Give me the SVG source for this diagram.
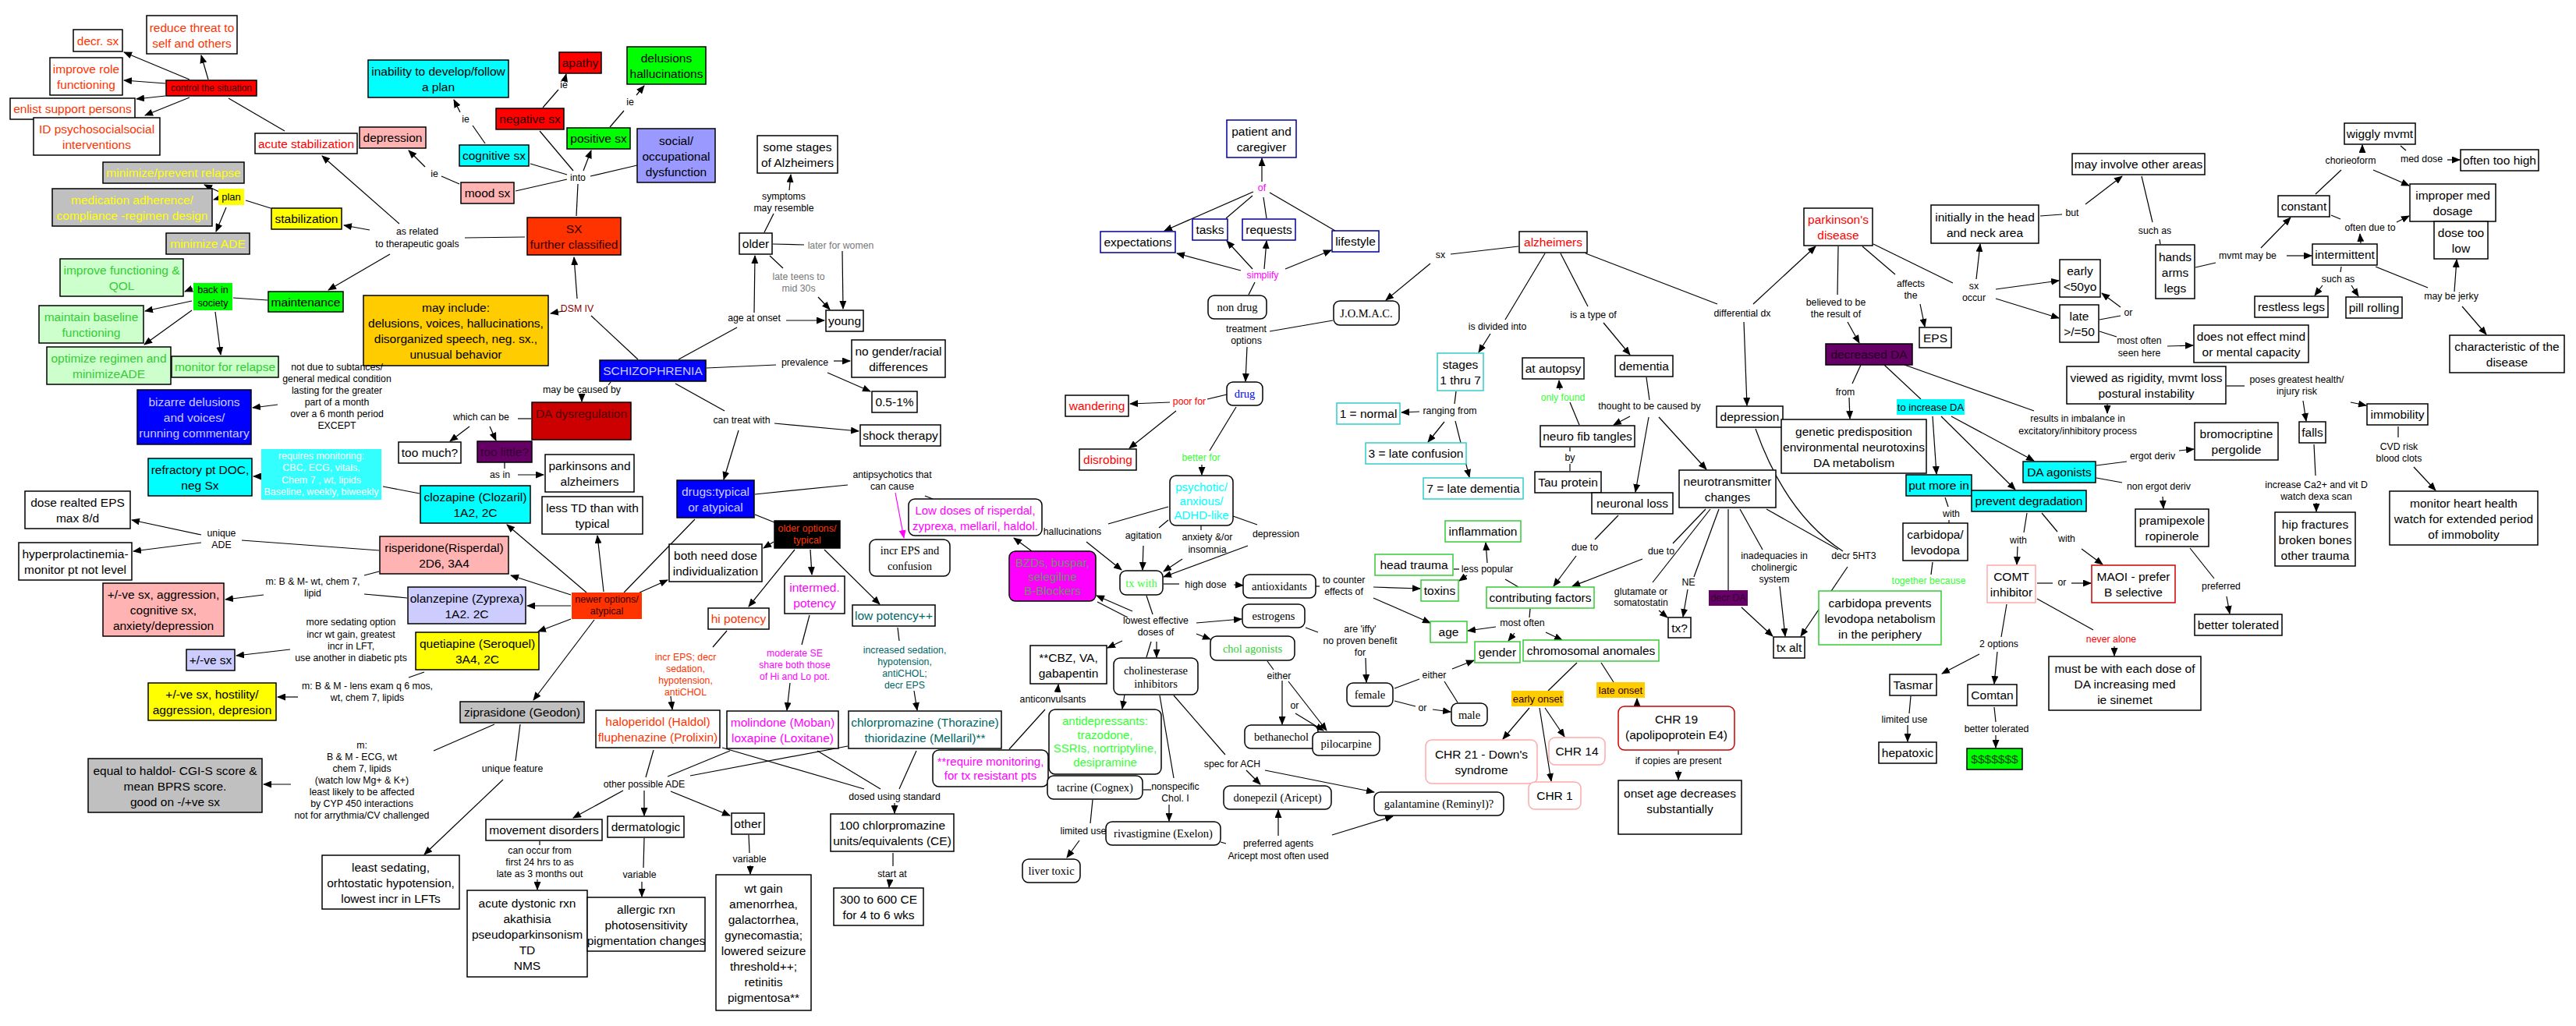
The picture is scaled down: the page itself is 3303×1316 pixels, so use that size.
<svg xmlns="http://www.w3.org/2000/svg" width="3303" height="1316" viewBox="0 0 3303 1316">
<style>
.b{fill:#fff;stroke:#000;stroke-width:1.5}
.red{fill:#f00}.cy{fill:#0ff}.cy2{fill:#33ffff}.pk{fill:#ffb3b3}.gr{fill:#0f0}.lg{fill:#ccffcc}.gy{fill:#c0c0c0}.ye{fill:#ff0}.bl{fill:#00f}.lv{fill:#ccf}.lv2{fill:#99f}.pu{fill:#606}.or{fill:#f30}.go{fill:#fc0}.dr{fill:#c00}.bk{fill:#000}.mg{fill:#f0f}
.sb{stroke:#000099}.sc{stroke:#33cccc}.sg{stroke:#33cc33}.sp{stroke:#ffaaaa}.sr{stroke:#cc0000}
text{dominant-baseline:central;text-anchor:middle}
.t{font-family:"Liberation Sans",Arial,sans-serif;font-size:15.5px;fill:#000}
.s{font-family:"Liberation Serif","Times New Roman",serif;font-size:14.5px;fill:#000}
.l{font-family:"Liberation Sans",Arial,sans-serif;font-size:12.3px;fill:#000}
.sm{font-size:12.5px}
.tr{fill:#f00}.to{fill:#f30}.ty{fill:#ff0}.tg{fill:#33cc33}.tm{fill:#f0f}.tt{fill:#066}.tc{fill:#0ff}.tw{fill:#fff}.tb{fill:#00f}.tl{fill:#ccf}.tlg{fill:#3f3}.td{fill:#300}.tgy{fill:#777}.tdr{fill:#800}.tbz{fill:#696}.tpu{fill:#303}
#connectors path{fill:none;stroke:#000;stroke-width:1.2}
#connectors path.a{marker-end:url(#ah)}
#connectors path.m{stroke:#f0f}
</style>
<defs>
<marker id="ah" markerUnits="userSpaceOnUse" markerWidth="11" markerHeight="9" refX="10" refY="4.5" orient="auto"><path d="M0,0 L11,4.5 L0,9 z" fill="#000"/></marker>
<marker id="ahm" markerUnits="userSpaceOnUse" markerWidth="11" markerHeight="9" refX="10" refY="4.5" orient="auto"><path d="M0,0 L11,4.5 L0,9 z" fill="#f0f"/></marker>
</defs>
<rect width="3303" height="1316" fill="#fff"/>

<g id="connectors">
<path class="a" d="M243,102 L159,67"/>
<path class="a" d="M267,102 L258,71"/>
<path class="a" d="M212,107 L159,103"/>
<path class="a" d="M212,123 L175,127"/>
<path class="a" d="M243,125 L186,148"/>
<path d="M365,168 L293,126"/>
<path class="a" d="M512,287 L413,200"/>
<path class="a" d="M474,295 L441,289"/>
<path class="a" d="M500,326 L421,372"/>
<path d="M673,304 L596,305"/>
<path class="a" d="M740,383 L736,330"/>
<path class="a" d="M722,399 L706,402"/>
<path d="M818,461 L758,405"/>
<path d="M739,277 L741,236"/>
<path d="M727,230 L661,245"/>
<path d="M727,224 L680,210"/>
<path d="M735,219 L692,168"/>
<path class="a" d="M748,219 L758,193"/>
<path d="M757,226 L817,212"/>
<path d="M696,138 L716,115"/>
<path class="a" d="M724,103 L726,95"/>
<path d="M782,163 L800,142"/>
<path class="a" d="M816,122 L826,110"/>
<path d="M622,184 L606,161"/>
<path class="a" d="M590,144 L582,128"/>
<path d="M589,236 L566,226"/>
<path class="a" d="M545,214 L524,193"/>
<path d="M347,267 L315,257"/>
<path class="a" d="M281,246 L262,237"/>
<path class="a" d="M281,254 L274,256"/>
<path class="a" d="M290,266 L277,297"/>
<path d="M343,385 L299,382"/>
<path class="a" d="M247,370 L237,374"/>
<path class="a" d="M246,386 L186,399"/>
<path class="a" d="M246,398 L185,442"/>
<path class="a" d="M276,400 L283,455"/>
<path class="a" d="M356,519 L324,523"/>
<path d="M870,461 L945,420"/>
<path class="a" d="M967,401 L968,328"/>
<path class="a" d="M1008,411 L1057,411"/>
<path d="M980,298 L992,274"/>
<path class="a" d="M1012,244 L1014,224"/>
<path d="M991,313 L1031,314"/>
<path class="a" d="M1080,322 L1081,396"/>
<path d="M987,328 L1004,344"/>
<path class="a" d="M1049,381 L1064,397"/>
<path d="M906,472 L995,468"/>
<path class="a" d="M1069,463 L1090,463"/>
<path class="a" d="M1061,478 L1116,502"/>
<path d="M866,492 L929,527"/>
<path class="a" d="M993,543 L1101,553"/>
<path class="a" d="M947,552 L928,615"/>
<path d="M783,490 L780,494"/>
<path class="a" d="M746,506 L746,515"/>
<path d="M681,537 L664,537"/>
<path class="a" d="M602,547 L577,566"/>
<path class="a" d="M628,547 L636,565"/>
<path d="M647,593 L647,601"/>
<path class="a" d="M664,609 L697,609"/>
<path d="M891,666 L800,760"/>
<path class="a" d="M820,760 L856,744"/>
<path d="M968,660 L993,670"/>
<path class="a" d="M992,695 L979,703"/>
<path class="a" d="M752,760 L650,673"/>
<path class="a" d="M774,759 L766,687"/>
<path class="a" d="M732,763 L655,738"/>
<path class="a" d="M732,777 L676,777"/>
<path class="a" d="M732,794 L690,810"/>
<path class="a" d="M762,795 L684,898"/>
<path d="M538,633 L491,624"/>
<path class="a" d="M335,611 L325,611"/>
<path d="M486,706 L310,693"/>
<path class="a" d="M258,686 L169,667"/>
<path class="a" d="M258,696 L171,707"/>
<path d="M486,733 L467,738"/>
<path class="a" d="M338,763 L289,769"/>
<path d="M522,767 L467,762"/>
<path class="a" d="M372,833 L303,841"/>
<path d="M544,862 L524,869"/>
<path class="a" d="M382,894 L356,894"/>
<path d="M634,929 L556,963"/>
<path class="a" d="M373,1006 L338,1006"/>
<path d="M667,929 L661,976"/>
<path class="a" d="M645,1000 L544,1096"/>
<path d="M932,809 L914,830"/>
<path class="a" d="M860,893 L862,910"/>
<path d="M1038,789 L1028,827"/>
<path class="a" d="M1013,876 L1009,911"/>
<path d="M1151,805 L1153,822"/>
<path class="a" d="M1172,886 L1176,911"/>
<path class="a" d="M1019,705 L960,778"/>
<path class="a" d="M1039,705 L1041,737"/>
<path class="a" d="M1057,705 L1128,775"/>
<path d="M838,962 L828,997"/>
<path d="M936,963 L856,996"/>
<path d="M1087,957 L885,995"/>
<path d="M926,959 L1108,1012"/>
<path d="M1048,963 L1129,1012"/>
<path d="M1175,963 L1153,1012"/>
<path class="a" d="M1147,1030 L1147,1043"/>
<path d="M1145,1094 L1145,1111"/>
<path class="a" d="M1141,1129 L1140,1138"/>
<path class="a" d="M799,1014 L735,1049"/>
<path class="a" d="M826,1014 L826,1046"/>
<path class="a" d="M860,1015 L936,1046"/>
<path d="M692,1079 L692,1084"/>
<path class="a" d="M689,1128 L689,1141"/>
<path d="M826,1075 L825,1113"/>
<path class="a" d="M823,1131 L823,1150"/>
<path d="M960,1071 L961,1094"/>
<path class="a" d="M962,1110 L962,1121"/>
<path d="M968,634 L1087,622"/>
<path d="M1186,636 L1196,640"/>
<path class="m" marker-end="url(#ahm)" d="M1148,632 L1159,690"/>
<path class="a" d="M1323,707 L1300,690"/>
<path d="M1498,650 L1421,672"/>
<path class="a" d="M1393,695 L1438,731"/>
<path d="M1498,667 L1486,677"/>
<path class="a" d="M1466,700 L1465,731"/>
<path d="M1540,674 L1540,680"/>
<path class="a" d="M1516,717 L1492,733"/>
<path d="M1581,662 L1612,673"/>
<path class="a" d="M1600,700 L1492,740"/>
<path d="M1492,749 L1512,749"/>
<path class="a" d="M1582,750 L1594,751"/>
<path d="M1470,764 L1478,788"/>
<path class="a" d="M1452,784 L1406,764"/>
<path d="M1446,792 L1407,772"/>
<path class="a" d="M1534,799 L1592,794"/>
<path class="a" d="M1534,813 L1552,820"/>
<path class="a" d="M1439,822 L1420,831"/>
<path d="M1476,823 L1470,843"/>
<path class="a" d="M1483,823 L1483,843"/>
<path class="a" d="M1356,888 L1357,878"/>
<path d="M1294,961 L1340,910"/>
<path class="a" d="M1442,891 L1439,909"/>
<path d="M1487,892 L1505,998"/>
<path class="a" d="M1499,1032 L1499,1053"/>
<path d="M1466,1013 L1476,1013"/>
<path d="M1401,1026 L1398,1056"/>
<path class="a" d="M1384,1078 L1368,1100"/>
<path d="M1565,1080 L1572,1082"/>
<path class="a" d="M1639,1072 L1639,1039"/>
<path class="a" d="M1708,1071 L1786,1047"/>
<path d="M1505,892 L1571,968"/>
<path class="a" d="M1598,988 L1616,1006"/>
<path class="a" d="M1622,988 L1762,1016"/>
<path d="M1625,848 L1633,859"/>
<path class="a" d="M1644,873 L1644,929"/>
<path class="a" d="M1652,874 L1701,937"/>
<path class="a" d="M1661,915 L1697,937"/>
<path d="M1674,805 L1690,811"/>
<path class="a" d="M1751,844 L1752,875"/>
<path d="M1788,883 L1820,871"/>
<path d="M1869,901 L1852,874"/>
<path class="a" d="M1862,858 L1890,847"/>
<path d="M1788,899 L1815,906"/>
<path class="a" d="M1837,910 L1860,913"/>
<path d="M1947,316 L1860,326"/>
<path class="a" d="M1834,338 L1777,385"/>
<path d="M1709,411 L1628,425"/>
<path class="a" d="M1599,445 L1597,489"/>
<path d="M1601,378 L1609,362"/>
<path class="a" d="M1591,347 L1509,325"/>
<path class="a" d="M1606,345 L1573,309"/>
<path class="a" d="M1621,345 L1624,309"/>
<path class="a" d="M1648,345 L1707,321"/>
<path class="a" d="M1618,233 L1618,203"/>
<path class="a" d="M1607,246 L1493,296"/>
<path d="M1606,251 L1572,280"/>
<path d="M1620,253 L1624,280"/>
<path d="M1628,247 L1712,296"/>
<path d="M1573,506 L1548,512"/>
<path class="a" d="M1500,516 L1449,518"/>
<path class="a" d="M1508,527 L1448,575"/>
<path d="M1585,522 L1551,578"/>
<path class="a" d="M1541,596 L1541,609"/>
<path d="M1981,325 L1930,410"/>
<path class="a" d="M1911,428 L1896,452"/>
<path d="M1867,502 L1865,518"/>
<path class="a" d="M1820,528 L1797,529"/>
<path class="a" d="M1852,541 L1831,567"/>
<path class="a" d="M1866,540 L1884,612"/>
<path d="M2001,325 L2036,393"/>
<path class="a" d="M2056,414 L2090,455"/>
<path d="M2111,484 L2115,513"/>
<path class="a" d="M2090,534 L2069,545"/>
<path class="a" d="M2114,535 L2097,631"/>
<path class="a" d="M2127,535 L2188,602"/>
<path d="M2025,545 L2013,516"/>
<path class="a" d="M2000,500 L1999,488"/>
<path d="M2013,574 L2013,579"/>
<path d="M2013,595 L2013,604"/>
<path d="M2075,661 L2045,692"/>
<path class="a" d="M2021,713 L1992,752"/>
<path d="M2187,653 L2145,697"/>
<path class="a" d="M2106,717 L2016,752"/>
<path d="M2193,653 L2119,747"/>
<path class="a" d="M2127,783 L2138,792"/>
<path d="M2204,653 L2172,740"/>
<path class="a" d="M2164,756 L2158,791"/>
<path d="M2216,653 L2216,757"/>
<path class="a" d="M2233,779 L2273,816"/>
<path d="M2231,653 L2260,705"/>
<path class="a" d="M2282,752 L2289,816"/>
<path d="M2265,653 L2357,705"/>
<path class="a" d="M2369,727 L2309,816"/>
<path d="M2251,550 Q2290,660 2363,707"/>
<path d="M2033,325 L2202,390"/>
<path class="a" d="M2248,390 L2328,316"/>
<path class="a" d="M2236,413 L2240,520"/>
<path d="M2357,316 L2356,378"/>
<path class="a" d="M2369,413 L2384,440"/>
<path d="M2388,316 L2430,352"/>
<path class="a" d="M2462,390 L2468,419"/>
<path d="M2402,313 L2504,363"/>
<path class="a" d="M2534,358 L2539,313"/>
<path class="a" d="M2559,371 L2640,360"/>
<path class="a" d="M2559,383 L2640,408"/>
<path d="M2692,410 L2719,405"/>
<path class="a" d="M2719,394 L2695,376"/>
<path d="M2692,425 L2714,432"/>
<path class="a" d="M2779,444 L2812,443"/>
<path d="M2616,277 L2644,275"/>
<path class="a" d="M2674,262 L2721,226"/>
<path d="M2746,226 L2760,285"/>
<path d="M2769,307 L2770,313"/>
<path d="M2815,343 L2841,337"/>
<path class="a" d="M2932,328 L2964,328"/>
<path class="a" d="M2899,318 L2937,279"/>
<path d="M2969,249 L3002,218"/>
<path class="a" d="M3029,196 L3029,186"/>
<path class="a" d="M3043,218 L3089,238"/>
<path d="M3078,187 L3085,193"/>
<path class="a" d="M3138,205 L3154,205"/>
<path d="M2989,276 L3001,281"/>
<path class="a" d="M3073,285 L3089,277"/>
<path class="a" d="M3027,312 L3026,300"/>
<path d="M3002,342 L3001,349"/>
<path class="a" d="M2978,366 L2968,379"/>
<path class="a" d="M3015,366 L3024,380"/>
<path d="M3046,342 L3113,369"/>
<path class="a" d="M3147,374 L3150,333"/>
<path class="a" d="M3157,393 L3188,429"/>
<path d="M2386,468 L2375,492"/>
<path class="a" d="M2371,510 L2372,537"/>
<path d="M2416,468 L2463,512"/>
<path d="M2442,468 L2608,527"/>
<path class="a" d="M2702,518 L2702,530"/>
<path d="M2855,495 L2878,495"/>
<path class="a" d="M2953,514 L2957,540"/>
<path class="a" d="M3014,516 L3034,520"/>
<path d="M2967,570 L2969,610"/>
<path class="a" d="M2970,645 L2970,656"/>
<path d="M3075,547 L3075,561"/>
<path class="a" d="M3095,599 L3123,629"/>
<path class="a" d="M2478,534 L2483,608"/>
<path class="a" d="M2489,534 L2584,628"/>
<path class="a" d="M2502,534 L2608,591"/>
<path d="M2688,597 L2727,592"/>
<path class="a" d="M2794,578 L2813,576"/>
<path d="M2688,613 L2721,619"/>
<path class="a" d="M2773,637 L2774,652"/>
<path d="M2808,703 L2839,742"/>
<path class="a" d="M2855,765 L2859,787"/>
<path d="M2494,638 L2498,650"/>
<path d="M2499,667 L2499,671"/>
<path d="M2478,721 L2476,737"/>
<path d="M2599,658 L2595,683"/>
<path class="a" d="M2587,701 L2586,724"/>
<path d="M2618,658 L2638,682"/>
<path class="a" d="M2669,704 L2696,724"/>
<path d="M2612,748 L2632,748"/>
<path class="a" d="M2656,748 L2681,748"/>
<path d="M2612,768 L2684,808"/>
<path class="a" d="M2711,829 L2711,841"/>
<path d="M2573,775 L2566,817"/>
<path class="a" d="M2538,839 L2490,864"/>
<path class="a" d="M2561,836 L2557,877"/>
<path d="M2557,907 L2559,926"/>
<path class="a" d="M2559,943 L2559,959"/>
<path d="M2450,893 L2448,915"/>
<path class="a" d="M2446,930 L2446,951"/>
<path d="M1962,781 L1961,792"/>
<path class="a" d="M1918,804 L1882,809"/>
<path class="a" d="M1942,812 L1934,822"/>
<path class="a" d="M1982,811 L2003,821"/>
<path class="a" d="M1761,753 L1821,755"/>
<path class="a" d="M1761,767 L1834,799"/>
<path d="M1687,752 L1692,752"/>
<path d="M1947,753 L1930,743"/>
<path class="a" d="M1907,722 L1905,696"/>
<path d="M1871,730 L1864,730"/>
<path class="a" d="M1881,738 L1871,745"/>
<path d="M2022,850 L1985,886"/>
<path d="M2053,850 L2069,875"/>
<path class="a" d="M1961,908 L1927,948"/>
<path class="a" d="M1981,908 L2006,945"/>
<path class="a" d="M1974,908 L1989,1002"/>
<path class="a" d="M2099,905 L2099,896"/>
<path d="M2152,963 L2152,968"/>
<path class="a" d="M2152,988 L2152,1000"/>
</g>

<g id="n-decr-sx"><rect class="b" x="94" y="38" width="63" height="28"/><text class="t to" x="125.5" y="52">decr. sx</text></g>
<g id="n-reduce-threat"><rect class="b" x="188" y="20" width="116" height="49"/><text class="t to"><tspan x="246" y="34.5">reduce threat to</tspan><tspan x="246" y="54.5">self and others</tspan></text></g>
<g id="n-improve-role"><rect class="b" x="64" y="74" width="93" height="48"/><text class="t to"><tspan x="110.5" y="88">improve role</tspan><tspan x="110.5" y="108">functioning</tspan></text></g>
<g id="n-control"><rect class="b red" x="213" y="103" width="116" height="20"/><text class="t td" style="font-size:12px" x="271" y="113">control the situation</text></g>
<g id="n-enlist"><rect class="b" x="13" y="126" width="160" height="27"/><text class="t to" x="93" y="139.5">enlist support persons</text></g>
<g id="n-id-psych"><rect class="b" x="43" y="151" width="162" height="48"/><text class="t to"><tspan x="124" y="165">ID psychosocialsocial</tspan><tspan x="124" y="185">interventions</tspan></text></g>
<g id="n-acute"><rect class="b" x="327" y="171" width="131" height="26"/><text class="t tr" x="392.5" y="184">acute stabilization</text></g>
<g id="n-depression1"><rect class="b pk" x="461" y="163" width="85" height="27"/><text class="t" x="503.5" y="176.5">depression</text></g>
<g id="n-inability"><rect class="b cy" x="472" y="77" width="180" height="48"/><text class="t"><tspan x="562" y="91">inability to develop/follow</tspan><tspan x="562" y="111">a plan</tspan></text></g>
<g id="n-apathy"><rect class="b red" x="717" y="67" width="54" height="27"/><text class="t td" x="744" y="80.5">apathy</text></g>
<g id="n-negative"><rect class="b red" x="636" y="139" width="87" height="27"/><text class="t td" x="679.5" y="152.5">negative sx</text></g>
<g id="n-delusions"><rect class="b gr" x="804" y="60" width="101" height="48"/><text class="t"><tspan x="854.5" y="74">delusions</tspan><tspan x="854.5" y="94">hallucinations</tspan></text></g>
<g id="n-positive"><rect class="b gr" x="727" y="164" width="81" height="27"/><text class="t" x="767.5" y="177.5">positive sx</text></g>
<g id="n-cognitive"><rect class="b cy" x="589" y="186" width="89" height="27"/><text class="t" x="633.5" y="199.5">cognitive sx</text></g>
<g id="n-social"><rect class="b lv2" x="817" y="165" width="100" height="69"/><text class="t"><tspan x="867" y="179.5">social/</tspan><tspan x="867" y="199.5">occupational</tspan><tspan x="867" y="219.5">dysfunction</tspan></text></g>
<g id="n-mood"><rect class="b pk" x="591" y="234" width="68" height="27"/><text class="t" x="625" y="247.5">mood sx</text></g>
<g id="n-min-relapse"><rect class="b gy" x="132" y="208" width="181" height="27"/><text class="t ty" x="222.5" y="221.5">minimize/prevent relapse</text></g>
<g id="n-med-adh"><rect class="b gy" x="67" y="242" width="205" height="48"/><text class="t ty"><tspan x="169.5" y="256">medication adherence/</tspan><tspan x="169.5" y="276">compliance -regimen design</tspan></text></g>
<g id="n-plan"><rect class="b ye" x="280" y="242" width="33" height="21" style="stroke:none"/><text class="t" style="font-size:13px" x="296.5" y="252.5">plan</text></g>
<g id="n-stabilization"><rect class="b ye" x="348" y="267" width="90" height="27"/><text class="t" x="393" y="280.5">stabilization</text></g>
<g id="n-min-ade"><rect class="b gy" x="213" y="299" width="107" height="27"/><text class="t ty" x="266.5" y="312.5">minimize ADE</text></g>
<g id="n-sx-further"><rect class="b or" x="676" y="279" width="120" height="48"/><text class="t td"><tspan x="736" y="293">SX</tspan><tspan x="736" y="313">further classified</tspan></text></g>
<g id="n-improve-func"><rect class="b lg" x="77" y="332" width="158" height="48"/><text class="t tg"><tspan x="156" y="346">improve functioning &amp;</tspan><tspan x="156" y="366">QOL</tspan></text></g>
<g id="n-back-society"><rect class="b gr" x="248" y="363" width="50" height="35" style="stroke:none"/><text class="t" style="font-size:12.5px"><tspan x="273" y="372">back in</tspan><tspan x="273" y="389">society</tspan></text></g>
<g id="n-maintenance"><rect class="b gr" x="344" y="374" width="96" height="26"/><text class="t" x="392" y="387">maintenance</text></g>
<g id="n-maintain-base"><rect class="b lg" x="50" y="392" width="134" height="48"/><text class="t tg"><tspan x="117" y="406">maintain baseline</tspan><tspan x="117" y="426">functioning</tspan></text></g>
<g id="n-may-include"><rect class="b go" x="466" y="379" width="237" height="90"/><text class="t"><tspan x="584.5" y="394">may include:</tspan><tspan x="584.5" y="414">delusions, voices, hallucinations,</tspan><tspan x="584.5" y="434">disorganized speech, neg. sx.,</tspan><tspan x="584.5" y="454">unusual behavior</tspan></text></g>
<g id="n-optimize"><rect class="b lg" x="60" y="445" width="159" height="48"/><text class="t tg"><tspan x="139.5" y="459">optimize regimen and</tspan><tspan x="139.5" y="479">minimizeADE</tspan></text></g>
<g id="n-monitor-relapse"><rect class="b lg" x="220" y="457" width="137" height="27"/><text class="t tg" x="288.5" y="470.5">monitor for relapse</text></g>
<g id="n-bizarre"><rect class="b bl" x="176" y="500" width="146" height="70"/><text class="t tl"><tspan x="249" y="515">bizarre delusions</tspan><tspan x="249" y="535">and voices/</tspan><tspan x="249" y="555">running commentary</tspan></text></g>
<g id="n-schizo"><rect class="b bl" x="769" y="462" width="136" height="27"/><text class="t tl" x="837" y="475.5">SCHIZOPHRENIA</text></g>
<g id="n-da-dys"><rect class="b dr" x="682" y="516" width="127" height="48"/><text class="t" style="fill:#500" x="745.5" y="530">DA dysregulation</text></g>
<g id="n-too-much"><rect class="b" x="511" y="567" width="80" height="27"/><text class="t" x="551" y="580.5">too much?</text></g>
<g id="n-too-little"><rect class="b pu" x="612" y="566" width="70" height="27"/><text class="t tpu" x="647" y="579.5">too little?</text></g>
<g id="n-pk-alz"><rect class="b" x="699" y="583" width="114" height="48"/><text class="t"><tspan x="756" y="597">parkinsons and</tspan><tspan x="756" y="617">alzheimers</tspan></text></g>
<g id="n-less-td"><rect class="b" x="695" y="637" width="129" height="48"/><text class="t"><tspan x="759.5" y="651">less TD than with</tspan><tspan x="759.5" y="671">typical</tspan></text></g>
<g id="n-refractory"><rect class="b cy" x="190" y="588" width="133" height="48"/><text class="t"><tspan x="256.5" y="602">refractory pt DOC,</tspan><tspan x="256.5" y="622">neg Sx</tspan></text></g>
<g id="n-req-mon"><rect class="b cy2" x="335" y="576" width="154" height="65" style="stroke:none"/><text class="t tw" style="font-size:12.5px"><tspan x="412" y="585">requires monitoring:</tspan><tspan x="412" y="600">CBC, ECG, vitals,</tspan><tspan x="412" y="616">Chem  7 , wt, lipids</tspan><tspan x="412" y="631">Baseline, weekly, biweekly</tspan></text></g>
<g id="n-clozapine"><rect class="b cy" x="539" y="623" width="141" height="48"/><text class="t"><tspan x="609.5" y="637">clozapine (Clozaril)</tspan><tspan x="609.5" y="657">1A2, 2C</tspan></text></g>
<g id="n-dose-eps"><rect class="b" x="32" y="630" width="135" height="48"/><text class="t"><tspan x="99.5" y="644">dose realted EPS</tspan><tspan x="99.5" y="664">max 8/d</tspan></text></g>
<g id="n-hyperprol"><rect class="b" x="24" y="696" width="145" height="48"/><text class="t"><tspan x="96.5" y="710">hyperprolactinemia-</tspan><tspan x="96.5" y="730">monitor pt not level</tspan></text></g>
<g id="n-risperidone"><rect class="b pk" x="487" y="688" width="165" height="48"/><text class="t"><tspan x="569.5" y="702">risperidone(Risperdal)</tspan><tspan x="569.5" y="722">2D6, 3A4</tspan></text></g>
<g id="n-aggr"><rect class="b pk" x="132" y="748" width="155" height="68"/><text class="t"><tspan x="209.5" y="762">+/-ve sx, aggression,</tspan><tspan x="209.5" y="782">cognitive sx,</tspan><tspan x="209.5" y="802">anxiety/depression</tspan></text></g>
<g id="n-olanzepine"><rect class="b lv" x="523" y="753" width="151" height="47"/><text class="t"><tspan x="598.5" y="766.5">olanzepine (Zyprexa)</tspan><tspan x="598.5" y="786.5">1A2. 2C</tspan></text></g>
<g id="n-newer"><rect class="b or" x="733" y="760" width="90" height="34" style="stroke:none"/><text class="t td" style="font-size:12.5px"><tspan x="778" y="769">newer options/</tspan><tspan x="778" y="784">atypical</tspan></text></g>
<g id="n-ve-sx"><rect class="b lv" x="239" y="833" width="62" height="27"/><text class="t" x="270" y="846.5">+/-ve sx</text></g>
<g id="n-quetiapine"><rect class="b ye" x="533" y="811" width="158" height="48"/><text class="t"><tspan x="612" y="825">quetiapine (Seroquel)</tspan><tspan x="612" y="845">3A4, 2C</tspan></text></g>
<g id="n-hostility"><rect class="b ye" x="190" y="876" width="164" height="48"/><text class="t"><tspan x="272" y="890">+/-ve sx, hostility/</tspan><tspan x="272" y="910">aggression, depresion</tspan></text></g>
<g id="n-ziprasidone"><rect class="b gy" x="590" y="900" width="159" height="27"/><text class="t" x="669.5" y="913.5">ziprasidone (Geodon)</text></g>
<g id="n-equal-haldol"><rect class="b gy" x="113" y="973" width="223" height="69"/><text class="t"><tspan x="224.5" y="987.5">equal to haldol- CGI-S score &amp;</tspan><tspan x="224.5" y="1007.5">mean BPRS score.</tspan><tspan x="224.5" y="1027.5">good on -/+ve sx</tspan></text></g>
<g id="n-least-sed"><rect class="b" x="413" y="1097" width="176" height="69"/><text class="t"><tspan x="501" y="1111.5">least sedating,</tspan><tspan x="501" y="1131.5">orhtostatic hypotension,</tspan><tspan x="501" y="1151.5">lowest incr in LFTs</tspan></text></g>
<g id="n-move-dis"><rect class="b" x="623" y="1051" width="149" height="27"/><text class="t" x="697.5" y="1064.5">movement disorders</text></g>
<g id="n-acute-dys"><rect class="b" x="599" y="1142" width="154" height="111"/><text class="t"><tspan x="676" y="1157.5">acute dystonic rxn</tspan><tspan x="676" y="1177.5">akathisia</tspan><tspan x="676" y="1197.5">pseudoparkinsonism</tspan><tspan x="676" y="1217.5">TD</tspan><tspan x="676" y="1237.5">NMS</tspan></text></g>
<g id="n-dermat"><rect class="b" x="779" y="1047" width="98" height="27"/><text class="t" x="828" y="1060.5">dermatologic</text></g>
<g id="n-allergic"><rect class="b" x="753" y="1151" width="151" height="69"/><text class="t"><tspan x="828.5" y="1165.5">allergic rxn</tspan><tspan x="828.5" y="1185.5">photosensitivity</tspan><tspan x="828.5" y="1205.5">pigmentation changes</tspan></text></g>
<g id="n-haloperidol"><rect class="b" x="764" y="911" width="159" height="48"/><text class="t to"><tspan x="843.5" y="925">haloperidol (Haldol)</tspan><tspan x="843.5" y="945">fluphenazine (Prolixin)</tspan></text></g>
<g id="n-molindone"><rect class="b" x="932" y="912" width="143" height="48"/><text class="t tm"><tspan x="1003.5" y="926">molindone (Moban)</tspan><tspan x="1003.5" y="946">loxapine (Loxitane)</tspan></text></g>
<g id="n-chlorpromazine"><rect class="b" x="1088" y="912" width="196" height="48"/><text class="t tt"><tspan x="1186" y="926">chlorpromazine (Thorazine)</tspan><tspan x="1186" y="946">thioridazine (Mellaril)**</tspan></text></g>
<g id="n-other"><rect class="b" x="938" y="1043" width="42" height="27"/><text class="t" x="959" y="1056.5">other</text></g>
<g id="n-wt-gain"><rect class="b" x="918" y="1122" width="122" height="174"/><text class="t"><tspan x="979" y="1139">wt gain</tspan><tspan x="979" y="1159">amenorrhea,</tspan><tspan x="979" y="1179">galactorrhea,</tspan><tspan x="979" y="1199">gynecomastia;</tspan><tspan x="979" y="1219">lowered seizure</tspan><tspan x="979" y="1239">threshold++;</tspan><tspan x="979" y="1259">retinitis</tspan><tspan x="979" y="1279">pigmentosa**</tspan></text></g>
<g id="n-ce100"><rect class="b" x="1065" y="1044" width="158" height="48"/><text class="t"><tspan x="1144" y="1058">100 chlorpromazine</tspan><tspan x="1144" y="1078">units/equivalents (CE)</tspan></text></g>
<g id="n-ce300"><rect class="b" x="1069" y="1139" width="115" height="48"/><text class="t"><tspan x="1126.5" y="1153">300 to 600 CE</tspan><tspan x="1126.5" y="1173">for 4 to 6 wks</tspan></text></g>
<g id="n-some-stages"><rect class="b" x="971" y="174" width="103" height="48"/><text class="t"><tspan x="1022.5" y="188">some stages</tspan><tspan x="1022.5" y="208">of Alzheimers</tspan></text></g>
<g id="n-older"><rect class="b" x="948" y="299" width="42" height="27"/><text class="t" x="969" y="312.5">older</text></g>
<g id="n-young"><rect class="b" x="1059" y="398" width="48" height="27"/><text class="t" x="1083" y="411.5">young</text></g>
<g id="n-no-gender"><rect class="b" x="1092" y="436" width="120" height="48"/><text class="t"><tspan x="1152" y="450">no gender/racial</tspan><tspan x="1152" y="470">differences</tspan></text></g>
<g id="n-pct"><rect class="b" x="1118" y="502" width="58" height="27"/><text class="t" x="1147" y="515.5">0.5-1%</text></g>
<g id="n-shock"><rect class="b" x="1103" y="545" width="103" height="27"/><text class="t" x="1154.5" y="558.5">shock therapy</text></g>
<g id="n-drugs"><rect class="b bl" x="868" y="616" width="99" height="48"/><text class="t tl"><tspan x="917.5" y="630">drugs:typical</tspan><tspan x="917.5" y="650">or atypical</tspan></text></g>
<g id="n-older-opt"><rect class="b bk" x="993" y="668" width="84" height="35"/><text class="t to" style="font-size:12.5px"><tspan x="1035" y="678">older options/</tspan><tspan x="1035" y="693">typical</tspan></text></g>
<g id="n-both-need"><rect class="b" x="858" y="698" width="119" height="48"/><text class="t"><tspan x="917.5" y="712">both need dose</tspan><tspan x="917.5" y="732">individualization</tspan></text></g>
<g id="n-low-doses"><rect class="b" rx="8" x="1165" y="640" width="171" height="47"/><text class="t tm" style="font-size:15px"><tspan x="1250.5" y="653.5">Low doses of risperdal,</tspan><tspan x="1250.5" y="673.5">zyprexa, mellaril, haldol.</tspan></text></g>
<g id="n-incr-eps"><rect class="b" rx="8" x="1115" y="692" width="103" height="47"/><text class="s"><tspan x="1166.5" y="705.5">incr EPS and</tspan><tspan x="1166.5" y="725.5">confusion</tspan></text></g>
<g id="n-intermed"><rect class="b" x="1006" y="739" width="77" height="48"/><text class="t tm"><tspan x="1044.5" y="753">intermed.</tspan><tspan x="1044.5" y="773">potency</tspan></text></g>
<g id="n-hi-pot"><rect class="b" x="908" y="780" width="78" height="27"/><text class="t to" x="947" y="793.5">hi potency</text></g>
<g id="n-low-pot"><rect class="b" x="1093" y="776" width="106" height="27"/><text class="t tt" x="1146" y="789.5">low potency++</text></g>
<g id="n-patient"><rect class="b sb" x="1573" y="154" width="89" height="48"/><text class="t"><tspan x="1617.5" y="168">patient and</tspan><tspan x="1617.5" y="188">caregiver</tspan></text></g>
<g id="n-expectations"><rect class="b sb" x="1411" y="297" width="96" height="27"/><text class="t" x="1459" y="310.5">expectations</text></g>
<g id="n-tasks"><rect class="b sb" x="1529" y="281" width="45" height="27"/><text class="t" x="1551.5" y="294.5">tasks</text></g>
<g id="n-requests"><rect class="b sb" x="1593" y="281" width="68" height="27"/><text class="t" x="1627" y="294.5">requests</text></g>
<g id="n-lifestyle"><rect class="b sb" x="1708" y="296" width="60" height="27"/><text class="t" x="1738" y="309.5">lifestyle</text></g>
<g id="n-non-drug"><rect class="b" rx="8" x="1549" y="379" width="75" height="30"/><text class="s" x="1586.5" y="394">non drug</text></g>
<g id="n-jomac"><rect class="b" rx="8" x="1710" y="386" width="84" height="31"/><text class="s" x="1752" y="401.5">J.O.M.A.C.</text></g>
<g id="n-drug"><rect class="b" rx="8" x="1573" y="490" width="46" height="30"/><text class="s tb" x="1596" y="505">drug</text></g>
<g id="n-wandering"><rect class="b" x="1366" y="507" width="81" height="27"/><text class="t tr" x="1406.5" y="520.5">wandering</text></g>
<g id="n-disrobing"><rect class="b" x="1384" y="576" width="73" height="27"/><text class="t tr" x="1420.5" y="589.5">disrobing</text></g>
<g id="n-psychotic"><rect class="b" rx="8" x="1500" y="610" width="81" height="64"/><text class="t tc" style="font-size:15px"><tspan x="1540.5" y="624">psychotic/</tspan><tspan x="1540.5" y="642">anxious/</tspan><tspan x="1540.5" y="660">ADHD-like</tspan></text></g>
<g id="n-bzds"><rect class="b mg" rx="8" x="1294" y="707" width="111" height="64"/><text class="t tbz" style="font-size:15px"><tspan x="1349.5" y="721">BZDs, buspar,</tspan><tspan x="1349.5" y="739">selegiline</tspan><tspan x="1349.5" y="757">B-Blockers</tspan></text></g>
<g id="n-tx-with"><rect class="b" rx="8" x="1436" y="732" width="55" height="31"/><text class="s tlg" x="1463.5" y="747.5">tx with</text></g>
<g id="n-antiox"><rect class="b" rx="8" x="1594" y="737" width="93" height="30"/><text class="s" x="1640.5" y="752">antioxidants</text></g>
<g id="n-estrogens"><rect class="b" rx="8" x="1593" y="775" width="80" height="30"/><text class="s" x="1633" y="790">estrogens</text></g>
<g id="n-chol-ag"><rect class="b" rx="8" x="1552" y="816" width="108" height="31"/><text class="s tg" x="1606" y="831.5">chol agonists</text></g>
<g id="n-cbz"><rect class="b" x="1321" y="828" width="98" height="49"/><text class="t"><tspan x="1370" y="842.5">**CBZ, VA,</tspan><tspan x="1370" y="862.5">gabapentin</tspan></text></g>
<g id="n-cholinesterase"><rect class="b" rx="8" x="1428" y="844" width="108" height="47"/><text class="s"><tspan x="1482" y="860">cholinesterase</tspan><tspan x="1482" y="877">inhibitors</tspan></text></g>
<g id="n-antidep"><rect class="b" rx="8" x="1345" y="910" width="144" height="83"/><text class="t tlg" style="font-size:15px"><tspan x="1417" y="924">antidepressants:</tspan><tspan x="1417" y="942">trazodone,</tspan><tspan x="1417" y="959">SSRIs, nortriptyline,</tspan><tspan x="1417" y="977">desipramine</tspan></text></g>
<g id="n-req-mon2"><rect class="b" rx="8" x="1196" y="962" width="148" height="47"/><text class="t tm" style="font-size:15px"><tspan x="1270" y="976">**require monitoring,</tspan><tspan x="1270" y="994">for tx resistant pts</tspan></text></g>
<g id="n-tacrine"><rect class="b" rx="8" x="1343" y="995" width="122" height="30"/><text class="s" x="1404" y="1010">tacrine (Cognex)</text></g>
<g id="n-rivastigmine"><rect class="b" rx="8" x="1418" y="1054" width="147" height="30"/><text class="s" x="1491.5" y="1069">rivastigmine (Exelon)</text></g>
<g id="n-liver"><rect class="b" rx="8" x="1311" y="1102" width="74" height="30"/><text class="s" x="1348" y="1117">liver toxic</text></g>
<g id="n-donepezil"><rect class="b" rx="8" x="1569" y="1008" width="138" height="30"/><text class="s" x="1638" y="1023">donepezil (Aricept)</text></g>
<g id="n-galantamine"><rect class="b" rx="8" x="1762" y="1016" width="166" height="30"/><text class="s" x="1845" y="1031">galantamine (Reminyl)?</text></g>
<g id="n-bethanechol"><rect class="b" rx="8" x="1596" y="930" width="94" height="30"/><text class="s" x="1643" y="945">bethanechol</text></g>
<g id="n-pilocarpine"><rect class="b" rx="8" x="1683" y="939" width="86" height="30"/><text class="s" x="1726" y="954">pilocarpine</text></g>
<g id="n-female"><rect class="b" rx="8" x="1727" y="876" width="59" height="30"/><text class="s" x="1756.5" y="891">female</text></g>
<g id="n-male"><rect class="b" rx="8" x="1861" y="902" width="46" height="29"/><text class="s" x="1884" y="916.5">male</text></g>
<g id="n-alzheimers"><rect class="b" x="1948" y="297" width="87" height="27"/><text class="t tr" x="1991.5" y="310.5">alzheimers</text></g>
<g id="n-stages"><rect class="b sc" x="1843" y="453" width="59" height="48"/><text class="t"><tspan x="1872.5" y="467">stages</tspan><tspan x="1872.5" y="487">1 thru 7</tspan></text></g>
<g id="n-normal"><rect class="b sc" x="1714" y="517" width="81" height="27"/><text class="t" x="1754.5" y="530.5">1 = normal</text></g>
<g id="n-late-conf"><rect class="b sc" x="1751" y="568" width="129" height="27"/><text class="t" x="1815.5" y="581.5">3 = late confusion</text></g>
<g id="n-late-dem"><rect class="b sc" x="1825" y="613" width="128" height="27"/><text class="t" x="1889" y="626.5">7 = late dementia</text></g>
<g id="n-autopsy"><rect class="b" x="1952" y="459" width="79" height="27"/><text class="t" x="1991.5" y="472.5">at autopsy</text></g>
<g id="n-dementia"><rect class="b" x="2071" y="456" width="74" height="27"/><text class="t" x="2108" y="469.5">dementia</text></g>
<g id="n-nft"><rect class="b" x="1975" y="546" width="121" height="27"/><text class="t" x="2035.5" y="559.5">neuro fib tangles</text></g>
<g id="n-tau"><rect class="b" x="1968" y="605" width="85" height="27"/><text class="t" x="2010.5" y="618.5">Tau protein</text></g>
<g id="n-neuronal"><rect class="b" x="2041" y="632" width="104" height="27"/><text class="t" x="2093" y="645.5">neuronal loss</text></g>
<g id="n-neurotrans"><rect class="b" x="2153" y="603" width="124" height="48"/><text class="t"><tspan x="2215" y="617">neurotransmitter</tspan><tspan x="2215" y="637">changes</tspan></text></g>
<g id="n-depression2"><rect class="b" x="2201" y="521" width="85" height="27"/><text class="t" x="2243.5" y="534.5">depression</text></g>
<g id="n-inflammation"><rect class="b sg" x="1853" y="668" width="97" height="27"/><text class="t" x="1901.5" y="681.5">inflammation</text></g>
<g id="n-head-trauma"><rect class="b sg" x="1763" y="711" width="100" height="27"/><text class="t" x="1813" y="724.5">head trauma</text></g>
<g id="n-toxins"><rect class="b sg" x="1822" y="744" width="48" height="27"/><text class="t" x="1846" y="757.5">toxins</text></g>
<g id="n-contributing"><rect class="b sg" x="1906" y="753" width="138" height="27"/><text class="t" x="1975" y="766.5">contributing factors</text></g>
<g id="n-age"><rect class="b sg" x="1834" y="797" width="47" height="27"/><text class="t" x="1857.5" y="810.5">age</text></g>
<g id="n-gender"><rect class="b sg" x="1891" y="823" width="58" height="27"/><text class="t" x="1920" y="836.5">gender</text></g>
<g id="n-chromosomal"><rect class="b sg" x="1953" y="821" width="174" height="27"/><text class="t" x="2040" y="834.5">chromosomal anomales</text></g>
<g id="n-tx-q"><rect class="b" x="2139" y="792" width="29" height="26"/><text class="t" x="2153.5" y="805">tx?</text></g>
<g id="n-decr-da"><rect class="b pu" x="2191" y="757" width="50" height="20" style="stroke:none"/><text class="t tpu" style="font-size:12.5px" x="2216" y="767">decr DA</text></g>
<g id="n-tx-alt"><rect class="b" x="2274" y="817" width="40" height="27"/><text class="t" x="2294" y="830.5">tx alt</text></g>
<g id="n-early-onset"><rect class="b go" x="1938" y="886" width="67" height="20" style="stroke:none"/><text class="t td" style="font-size:13px" x="1971.5" y="896">early onset</text></g>
<g id="n-late-onset"><rect class="b go" x="2047" y="875" width="62" height="20" style="stroke:none"/><text class="t td" style="font-size:13px" x="2078" y="885">late onset</text></g>
<g id="n-chr21"><rect class="b sp" rx="8" x="1828" y="949" width="143" height="56"/><text class="t"><tspan x="1899.5" y="967">CHR 21 - Down's</tspan><tspan x="1899.5" y="987">syndrome</tspan></text></g>
<g id="n-chr14"><rect class="b sp" rx="8" x="1986" y="946" width="72" height="35"/><text class="t" x="2022" y="963.5">CHR 14</text></g>
<g id="n-chr1"><rect class="b sp" rx="8" x="1960" y="1003" width="67" height="35"/><text class="t" x="1993.5" y="1020.5">CHR 1</text></g>
<g id="n-chr19"><rect class="b sr" rx="8" x="2075" y="906" width="149" height="56"/><text class="t"><tspan x="2149.5" y="922">CHR 19</tspan><tspan x="2149.5" y="942">(apolipoprotein E4)</tspan></text></g>
<g id="n-onset-age"><rect class="b" x="2075" y="1001" width="158" height="69"/><text class="t"><tspan x="2154" y="1017">onset age decreases</tspan><tspan x="2154" y="1037">substantially</tspan></text></g>
<g id="n-parkinsons"><rect class="b" x="2313" y="267" width="88" height="48"/><text class="t tr"><tspan x="2357" y="281">parkinson's</tspan><tspan x="2357" y="301">disease</tspan></text></g>
<g id="n-eps"><rect class="b" x="2461" y="420" width="41" height="26"/><text class="t" x="2481.5" y="433">EPS</text></g>
<g id="n-decreased-da"><rect class="b pu" x="2341" y="441" width="111" height="27"/><text class="t" style="fill:#202" x="2396.5" y="454.5">decreased DA</text></g>
<g id="n-genetic"><rect class="b" x="2284" y="538" width="186" height="69"/><text class="t"><tspan x="2377" y="552.5">genetic predisposition</tspan><tspan x="2377" y="572.5">environmental neurotoxins</tspan><tspan x="2377" y="592.5">DA metabolism</tspan></text></g>
<g id="n-to-incr"><rect class="b cy" x="2432" y="512" width="87" height="20" style="stroke:none"/><text class="t" style="font-size:13px" x="2475.5" y="522">to increase DA</text></g>
<g id="n-put-more"><rect class="b cy" x="2444" y="609" width="84" height="27"/><text class="t" x="2486" y="622.5">put more in</text></g>
<g id="n-prevent"><rect class="b cy" x="2528" y="629" width="147" height="27"/><text class="t" x="2601.5" y="642.5">prevent degradation</text></g>
<g id="n-carbidopa"><rect class="b" x="2440" y="671" width="83" height="48"/><text class="t"><tspan x="2481.5" y="685">carbidopa/</tspan><tspan x="2481.5" y="705">levodopa</tspan></text></g>
<g id="n-carb-prev"><rect class="b sg" x="2332" y="758" width="157" height="69"/><text class="t"><tspan x="2410.5" y="772.5">carbidopa prevents</tspan><tspan x="2410.5" y="792.5">levodopa netabolism</tspan><tspan x="2410.5" y="812.5">in the periphery</tspan></text></g>
<g id="n-da-ag"><rect class="b cy" x="2594" y="592" width="93" height="27"/><text class="t" x="2640.5" y="605.5">DA agonists</text></g>
<g id="n-bromo"><rect class="b" x="2814" y="542" width="107" height="48"/><text class="t"><tspan x="2867.5" y="556">bromocriptine</tspan><tspan x="2867.5" y="576">pergolide</tspan></text></g>
<g id="n-prami"><rect class="b" x="2738" y="653" width="94" height="48"/><text class="t"><tspan x="2785" y="667">pramipexole</tspan><tspan x="2785" y="687">ropinerole</tspan></text></g>
<g id="n-better-tol"><rect class="b" x="2814" y="788" width="112" height="27"/><text class="t" x="2870" y="801.5">better tolerated</text></g>
<g id="n-comt"><rect class="b sp" x="2548" y="725" width="62" height="48"/><text class="t"><tspan x="2579" y="739">COMT</tspan><tspan x="2579" y="759">inhibitor</tspan></text></g>
<g id="n-maoi"><rect class="b sr" x="2682" y="725" width="107" height="48"/><text class="t"><tspan x="2735.5" y="739">MAOI - prefer</tspan><tspan x="2735.5" y="759">B selective</tspan></text></g>
<g id="n-must-be"><rect class="b" x="2627" y="842" width="195" height="69"/><text class="t"><tspan x="2724.5" y="856.5">must be with each dose of</tspan><tspan x="2724.5" y="876.5">DA increasing med</tspan><tspan x="2724.5" y="896.5">ie sinemet</tspan></text></g>
<g id="n-tasmar"><rect class="b" x="2423" y="865" width="60" height="27"/><text class="t" x="2453" y="878.5">Tasmar</text></g>
<g id="n-hepatoxic"><rect class="b" x="2409" y="952" width="74" height="27"/><text class="t" x="2446" y="965.5">hepatoxic</text></g>
<g id="n-comtan"><rect class="b" x="2523" y="878" width="63" height="27"/><text class="t" x="2554.5" y="891.5">Comtan</text></g>
<g id="n-dollars"><rect class="b gr" x="2522" y="960" width="71" height="27"/><text class="t" style="fill:#040" x="2557.5" y="973.5">$$$$$$$</text></g>
<g id="n-initially"><rect class="b" x="2476" y="263" width="138" height="49"/><text class="t"><tspan x="2545" y="277.5">initially in the head</tspan><tspan x="2545" y="297.5">and neck area</tspan></text></g>
<g id="n-may-involve"><rect class="b" x="2657" y="197" width="170" height="27"/><text class="t" x="2742" y="210.5">may involve other areas</text></g>
<g id="n-early"><rect class="b" x="2641" y="333" width="52" height="48"/><text class="t"><tspan x="2667" y="347">early</tspan><tspan x="2667" y="367">&lt;50yo</tspan></text></g>
<g id="n-late"><rect class="b" x="2641" y="391" width="50" height="48"/><text class="t"><tspan x="2666" y="405">late</tspan><tspan x="2666" y="425">&gt;/=50</tspan></text></g>
<g id="n-does-not"><rect class="b" x="2813" y="417" width="147" height="48"/><text class="t"><tspan x="2886.5" y="431">does not effect mind</tspan><tspan x="2886.5" y="451">or mental capacity</tspan></text></g>
<g id="n-hands"><rect class="b" x="2764" y="314" width="50" height="69"/><text class="t"><tspan x="2789" y="328.5">hands</tspan><tspan x="2789" y="348.5">arms</tspan><tspan x="2789" y="368.5">legs</tspan></text></g>
<g id="n-constant"><rect class="b" x="2921" y="251" width="66" height="27"/><text class="t" x="2954" y="264.5">constant</text></g>
<g id="n-wiggly"><rect class="b" x="3006" y="158" width="91" height="27"/><text class="t" x="3051.5" y="171.5">wiggly mvmt</text></g>
<g id="n-too-high"><rect class="b" x="3155" y="192" width="100" height="27"/><text class="t" x="3205" y="205.5">often too high</text></g>
<g id="n-improper"><rect class="b" x="3090" y="236" width="110" height="48"/><text class="t"><tspan x="3145" y="250">improper med</tspan><tspan x="3145" y="270">dosage</tspan></text></g>
<g id="n-too-low"><rect class="b" x="3121" y="284" width="69" height="48"/><text class="t"><tspan x="3155.5" y="298">dose too</tspan><tspan x="3155.5" y="318">low</tspan></text></g>
<g id="n-intermittent"><rect class="b" x="2965" y="313" width="83" height="27"/><text class="t" x="3006.5" y="326.5">intermittent</text></g>
<g id="n-restless"><rect class="b" x="2891" y="380" width="94" height="27"/><text class="t" x="2938" y="393.5">restless legs</text></g>
<g id="n-pill"><rect class="b" x="3008" y="381" width="72" height="27"/><text class="t" x="3044" y="394.5">pill rolling</text></g>
<g id="n-characteristic"><rect class="b" x="3141" y="430" width="147" height="48"/><text class="t"><tspan x="3214.5" y="444">characteristic of the</tspan><tspan x="3214.5" y="464">disease</tspan></text></g>
<g id="n-viewed"><rect class="b" x="2650" y="470" width="204" height="48"/><text class="t"><tspan x="2752" y="484">viewed as rigidity, mvmt loss</tspan><tspan x="2752" y="504">postural instability</tspan></text></g>
<g id="n-immobility"><rect class="b" x="3035" y="518" width="78" height="27"/><text class="t" x="3074" y="531.5">immobility</text></g>
<g id="n-falls"><rect class="b" x="2948" y="541" width="34" height="27"/><text class="t" x="2965" y="554.5">falls</text></g>
<g id="n-hip"><rect class="b" x="2917" y="657" width="103" height="69"/><text class="t"><tspan x="2968.5" y="671.5">hip fractures</tspan><tspan x="2968.5" y="691.5">broken bones</tspan><tspan x="2968.5" y="711.5">other trauma</tspan></text></g>
<g id="n-monitor-heart"><rect class="b" x="3064" y="630" width="190" height="69"/><text class="t"><tspan x="3159" y="644.5">monitor heart health</tspan><tspan x="3159" y="664.5">watch for extended period</tspan><tspan x="3159" y="684.5">of immobolity</tspan></text></g>

<g id="labels">
<text class="l" x="597" y="153">ie</text>
<text class="l" x="723" y="109">ie</text>
<text class="l" x="808" y="131">ie</text>
<text class="l" x="557" y="223">ie</text>
<text class="l" x="741" y="228">into</text>
<text class="l"><tspan x="535" y="297">as related</tspan><tspan x="535" y="313">to therapeutic goals</tspan></text>
<text class="l tdr" x="740" y="396">DSM IV</text>
<text class="l"><tspan x="432" y="471">not due to subtances/</tspan><tspan x="432" y="486">general medical condition</tspan><tspan x="432" y="501">lasting for the greater</tspan><tspan x="432" y="516">part of a month</tspan><tspan x="432" y="531">over a 6 month period</tspan><tspan x="432" y="546">EXCEPT</tspan></text>
<text class="l" x="746" y="500">may be caused by</text>
<text class="l" x="617" y="535">which can be</text>
<text class="l" x="641" y="609">as in</text>
<text class="l"><tspan x="284" y="684">unique</tspan><tspan x="284" y="699">ADE</tspan></text>
<text class="l"><tspan x="401" y="746">m: B &amp; M- wt, chem 7,</tspan><tspan x="401" y="761">lipid</tspan></text>
<text class="l"><tspan x="450" y="798">more sedating option</tspan><tspan x="450" y="814">incr wt gain, greatest</tspan><tspan x="450" y="829">incr in LFT,</tspan><tspan x="450" y="844">use another in diabetic pts</tspan></text>
<text class="l"><tspan x="471" y="880">m: B &amp; M - lens exam q 6 mos,</tspan><tspan x="471" y="895">wt, chem 7, lipids</tspan></text>
<text class="l"><tspan x="464" y="956">m:</tspan><tspan x="464" y="971">B &amp; M - ECG, wt</tspan><tspan x="464" y="986">chem 7, lipids</tspan><tspan x="464" y="1001">(watch low Mg+ &amp; K+)</tspan><tspan x="464" y="1016">least likely to be affected</tspan><tspan x="464" y="1031">by CYP 450 interactions</tspan><tspan x="464" y="1046">not for arrythmia/CV challenged</tspan></text>
<text class="l" x="657" y="986">unique feature</text>
<text class="l"><tspan x="692" y="1091">can occur from</tspan><tspan x="692" y="1106">first 24 hrs to as</tspan><tspan x="692" y="1121">late as 3 months out</tspan></text>
<text class="l" x="826" y="1006">other possible ADE</text>
<text class="l" x="820" y="1122">variable</text>
<text class="l" x="961" y="1102">variable</text>
<text class="l" x="1147" y="1022">dosed using standard</text>
<text class="l" x="1144" y="1121">start at</text>
<text class="l to"><tspan x="879" y="843">incr EPS; decr</tspan><tspan x="879" y="858">sedation,</tspan><tspan x="879" y="873">hypotension,</tspan><tspan x="879" y="888">antiCHOL</tspan></text>
<text class="l tm"><tspan x="1019" y="838">moderate SE</tspan><tspan x="1019" y="853">share both those</tspan><tspan x="1019" y="868">of Hi and Lo pot.</tspan></text>
<text class="l tt"><tspan x="1160" y="834">increased sedation,</tspan><tspan x="1160" y="849">hypotension,</tspan><tspan x="1160" y="864">antiCHOL;</tspan><tspan x="1160" y="879">decr EPS</tspan></text>
<text class="l"><tspan x="1005" y="252">symptoms</tspan><tspan x="1005" y="267">may resemble</tspan></text>
<text class="l tgy" x="1078" y="315">later for women</text>
<text class="l tgy"><tspan x="1024" y="355">late teens to</tspan><tspan x="1024" y="370">mid 30s</tspan></text>
<text class="l" x="967" y="408">age at onset</text>
<text class="l" x="1032" y="465">prevalence</text>
<text class="l" x="951" y="539">can treat with</text>
<text class="l"><tspan x="1144" y="609">antipsychotics that</tspan><tspan x="1144" y="624">can cause</tspan></text>
<text class="l tm" x="1618" y="241">of</text>
<text class="l tm" x="1619" y="353">simplify</text>
<text class="l"><tspan x="1598" y="422">treatment</tspan><tspan x="1598" y="437">options</tspan></text>
<text class="l tr" x="1525" y="515">poor for</text>
<text class="l tlg" x="1540" y="587">better for</text>
<text class="l" x="1375" y="682">hallucinations</text>
<text class="l" x="1466" y="687">agitation</text>
<text class="l"><tspan x="1548" y="689">anxiety &amp;/or</tspan><tspan x="1548" y="705">insomnia</tspan></text>
<text class="l" x="1636" y="685">depression</text>
<text class="l" x="1546" y="750">high dose</text>
<text class="l"><tspan x="1482" y="796">lowest effective</tspan><tspan x="1482" y="811">doses of</tspan></text>
<text class="l" x="1640" y="867">either</text>
<text class="l" x="1660" y="905">or</text>
<text class="l" x="1350" y="897">anticonvulsants</text>
<text class="l"><tspan x="1507" y="1009">nonspecific</tspan><tspan x="1507" y="1024">Chol. I</tspan></text>
<text class="l" x="1389" y="1066">limited use</text>
<text class="l" x="1580" y="980">spec for ACH</text>
<text class="l"><tspan x="1639" y="1082">preferred agents</tspan><tspan x="1639" y="1098">Aricept most often used</tspan></text>
<text class="l" x="1847" y="327">sx</text>
<text class="l" x="1920" y="419">is divided into</text>
<text class="l" x="2043" y="404">is a type of</text>
<text class="l" x="2234" y="402">differential dx</text>
<text class="l"><tspan x="2354" y="388">believed to be</tspan><tspan x="2354" y="403">the result of</tspan></text>
<text class="l"><tspan x="2450" y="364">affects</tspan><tspan x="2450" y="379">the</tspan></text>
<text class="l" x="1859" y="527">ranging from</text>
<text class="l tlg" x="2004" y="510">only found</text>
<text class="l" x="2115" y="521">thought to be caused by</text>
<text class="l" x="2013" y="587">by</text>
<text class="l" x="2032" y="702">due to</text>
<text class="l" x="2130" y="707">due to</text>
<text class="l" x="1907" y="730">less popular</text>
<text class="l"><tspan x="1723" y="744">to counter</tspan><tspan x="1723" y="759">effects of</tspan></text>
<text class="l" x="1952" y="799">most often</text>
<text class="l"><tspan x="2104" y="759">glutamate or</tspan><tspan x="2104" y="773">somatostatin</tspan></text>
<text class="l" x="2165" y="747">NE</text>
<text class="l"><tspan x="2275" y="713">inadequacies in</tspan><tspan x="2275" y="728">cholinergic</tspan><tspan x="2275" y="743">system</tspan></text>
<text class="l" x="2377" y="713">decr 5HT3</text>
<text class="l"><tspan x="1744" y="807">are 'iffy'</tspan><tspan x="1744" y="822">no proven benefit</tspan><tspan x="1744" y="837">for</tspan></text>
<text class="l" x="1839" y="866">either</text>
<text class="l" x="1824" y="908">or</text>
<text class="l" x="2152" y="976">if copies are present</text>
<text class="l" x="2366" y="503">from</text>
<text class="l"><tspan x="2664" y="537">results in imbalance in</tspan><tspan x="2664" y="553">excitatory/inhibitory process</tspan></text>
<text class="l" x="2502" y="659">with</text>
<text class="l" x="2588" y="693">with</text>
<text class="l" x="2650" y="691">with</text>
<text class="l tlg" x="2473" y="745">together because</text>
<text class="l" x="2760" y="585">ergot deriv</text>
<text class="l" x="2768" y="624">non ergot deriv</text>
<text class="l" x="2848" y="752">preferred</text>
<text class="l" x="2644" y="747">or</text>
<text class="l tr" x="2707" y="820">never alone</text>
<text class="l" x="2563" y="826">2 options</text>
<text class="l" x="2560" y="935">better tolerated</text>
<text class="l" x="2442" y="923">limited use</text>
<text class="l"><tspan x="2945" y="487">poses greatest health/</tspan><tspan x="2945" y="502">injury risk</tspan></text>
<text class="l"><tspan x="3076" y="573">CVD risk</tspan><tspan x="3076" y="588">blood clots</tspan></text>
<text class="l"><tspan x="2970" y="622">increase Ca2+ and vit D</tspan><tspan x="2970" y="637">watch dexa scan</tspan></text>
<text class="l" x="2657" y="273">but</text>
<text class="l" x="2763" y="296">such as</text>
<text class="l"><tspan x="2531" y="367">sx</tspan><tspan x="2531" y="382">occur</tspan></text>
<text class="l" x="2729" y="401">or</text>
<text class="l"><tspan x="2743" y="437">most often</tspan><tspan x="2743" y="453">seen here</tspan></text>
<text class="l" x="2882" y="328">mvmt may be</text>
<text class="l" x="3014" y="206">chorieoform</text>
<text class="l" x="3105" y="204">med dose</text>
<text class="l" x="3039" y="292">often due to</text>
<text class="l" x="2998" y="358">such as</text>
<text class="l" x="3143" y="380">may be jerky</text>
</g>
</svg>
